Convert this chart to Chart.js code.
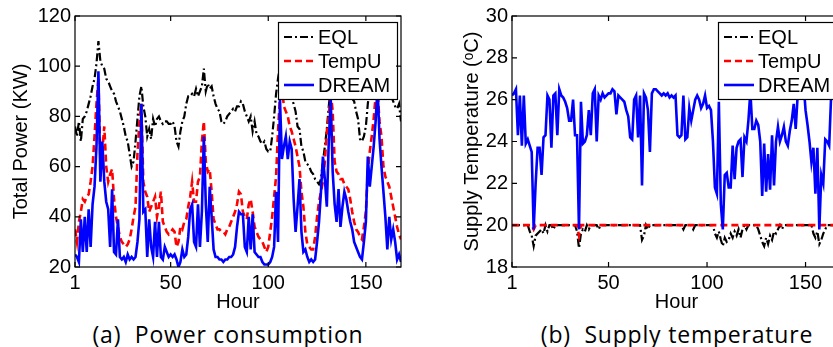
<!DOCTYPE html>
<html>
<head>
<meta charset="utf-8">
<script src="https://cdn.jsdelivr.net/npm/chart.js@4.4.1/dist/chart.umd.min.js"></script>
<style>
  html, body { margin: 0; padding: 0; width: 833px; height: 347px; overflow: hidden; background: #fff; }
  #wrapPower { position: absolute; left: 0; top: 0; width: 420px; height: 314px; }
  #wrapTemp { position: absolute; left: 450px; top: 0; width: 400px; height: 314px; }
  .caption { position: absolute; top: 318px; font-family: "Open Sans", "Noto Sans", sans-serif; font-size: 23px; letter-spacing: 0.8px; color: #000; white-space: pre; text-align: center; }
  #capA { left: 53px; width: 350px; }
  #capB { left: 502px; width: 350px; }
</style>
</head>
<body>
<div id="wrapPower"><canvas id="graficoPotencia" width="420" height="314"></canvas></div>
<div id="wrapTemp"><canvas id="graficoTemp" width="400" height="314"></canvas></div>
<div class="caption" id="capA">(a)  Power consumption</div>
<div class="caption" id="capB">(b)  Supply temperature</div>

<script>
// hours 1..168 (one week)
const horas = [];
for (let h = 1; h <= 168; h++) horas.push(h);
const horaTicks = [1, 50, 100, 150];
const potenciaTicks = [20, 40, 60, 80, 100, 120];
const tempTicks = [18, 20, 22, 24, 26, 28, 30];
const nomes = ["EQL", "TempU", "DREAM"];

// (a) total power, KW
const potenciaEql = [
  76, 72, 78, 70, 79, 80, 82, 85, 88, 92,
  95, 101, 110, 102, 100, 99, 95, 94, 92, 90,
  89, 86, 84, 82, 79, 76, 72, 70, 65, 60,
  62, 70, 79, 88, 92, 84, 80, 72, 75, 71,
  79, 76, 79, 80, 78, 77, 78, 78, 77, 77,
  78, 76, 70, 68, 74, 78, 80, 85, 88, 88,
  89, 88, 91, 88, 90, 92, 99, 90, 93, 91,
  92, 88, 85, 83, 82, 78, 77, 78, 80, 81,
  82, 83, 82, 84, 84, 86, 85, 82, 80, 78,
  80, 74, 78, 73, 72, 70, 69, 70, 67, 66,
  66, 72, 80, 89, 95, 100, 98, 96, 97, 94,
  90, 87, 85, 82, 76, 75, 68, 66, 62, 61,
  60, 58, 57, 55, 54, 53, 55, 62, 68, 75,
  84, 92, 98, 100, 96, 95, 96, 94, 92, 95,
  92, 90, 87, 86, 82, 79, 71, 70, 72, 76,
  85, 92, 98, 103, 100, 98, 97, 95, 96, 94,
  92, 90, 88, 86, 84, 83, 85, 78
];
const potenciaTempU = [
  35, 30, 38, 42, 47, 46, 48, 49, 54, 60,
  72, 85, 95, 62, 66, 76, 60, 54, 57, 59,
  47, 40, 36, 32, 30, 29, 28, 29, 31, 35,
  40, 44, 65, 78, 85, 54, 50, 48, 42, 44,
  46, 48, 40, 44, 50, 38, 36, 34, 33, 34,
  35, 34, 28, 30, 36, 35, 38, 39, 44, 48,
  54, 46, 46, 54, 56, 70, 78, 62, 58, 59,
  50, 39, 37, 35, 35, 34, 34, 33, 35, 36,
  38, 40, 42, 45, 50, 49, 42, 40, 39, 45,
  47, 42, 36, 34, 32, 31, 30, 28, 26, 28,
  34, 40, 48, 56, 74, 88, 92, 84, 82, 80,
  76, 74, 71, 68, 64, 60, 50, 44, 34, 29,
  28, 27, 27, 32, 40, 46, 50, 54, 62, 74,
  80, 90, 82, 62, 58, 57, 55, 55, 53, 52,
  51, 47, 42, 38, 35, 34, 32, 31, 36, 42,
  58, 66, 72, 79, 88, 90, 78, 72, 60, 56,
  54, 52, 48, 44, 40, 36, 33, 31
];
const potenciaDream = [
  25, 24, 22, 39, 26, 40, 26, 43, 28, 45,
  52, 68, 98, 54, 70, 54, 46, 43, 28, 51,
  26, 25, 39, 24, 23, 24, 22, 25, 23, 24,
  23, 24, 30, 39, 85, 42, 43, 24, 39, 28,
  24, 38, 24, 38, 24, 23, 28, 26, 24, 25,
  24, 25, 23, 20, 22, 27, 24, 25, 32, 43,
  45, 30, 28, 45, 28, 42, 72, 45, 30, 52,
  40, 27, 24, 24, 23, 23, 22, 23, 23, 24,
  24, 25, 28, 36, 42, 41, 41, 28, 26, 40,
  27, 41, 26, 25, 24, 24, 22, 21, 21, 21,
  22, 24, 28, 50, 30, 87, 63, 68, 72, 63,
  70, 67, 47, 34, 44, 55, 34, 26, 27, 24,
  22, 23, 22, 23, 30, 38, 50, 64, 55, 44,
  70, 87, 58, 45, 38, 51, 36, 44, 50, 47,
  42, 38, 35, 30, 28, 26, 24, 23, 30, 38,
  64, 52, 60, 68, 78, 92, 71, 60, 50, 40,
  27, 40, 31, 35, 30, 23, 25, 22
];

// (b) supply temperature, C
const tempEql = [
  20, 20, 20, 20, 20, 20, 20, 20, 20, 19.7,
  19.5, 19.0, 19.5, 19.6, 19.7, 19.8, 19.6, 20, 19.7, 20,
  20, 19.8, 20, 20, 20, 20, 20, 20, 20, 20,
  20, 20, 20, 19.7, 18.9, 19.6, 19.8, 19.7, 20, 19.8,
  20, 20, 20, 20, 19.8, 20, 20, 20, 20, 20,
  20, 20, 20, 20, 20, 20, 20, 20, 20, 20,
  20, 20, 20, 20, 20, 20, 19.3, 19.5, 20, 19.8,
  20, 20, 20, 20, 20, 20, 20, 20, 20, 20,
  20, 20, 20, 20, 20, 20, 20, 19.8, 20, 20,
  20, 20, 19.8, 20, 20, 20, 20, 20, 20, 20,
  20, 20, 20, 19.6, 19.4, 19.7, 19.3, 19.0, 19.4, 19.2,
  19.3, 19.6, 19.4, 19.7, 19.5, 19.8, 19.4, 19.8, 20, 19.8,
  20, 20, 20, 20, 20, 19.8, 19.5, 19.2, 19.0, 19.4,
  19.1, 19.5, 19.3, 19.7, 19.6, 19.8, 20, 19.8, 20, 20,
  20, 20, 20, 20, 20, 20, 20, 20, 20, 20,
  20, 20, 20, 19.6, 19.4, 19.7, 19.1, 19.3, 19.6, 19.8,
  20, 20, 20, 20, 20, 20, 20, 20
];
const tempTempU = [
  20, 20, 20, 20, 20, 20, 20, 20, 20, 20,
  20, 19.8, 20, 20, 20, 20, 20, 20, 20, 20,
  20, 20, 20, 20, 20, 20, 20, 20, 20, 20,
  20, 20, 20, 20, 19.5, 20, 20, 20, 20, 20,
  20, 20, 20, 20, 20, 20, 20, 20, 20, 20,
  20, 20, 20, 20, 20, 20, 20, 20, 20, 20,
  20, 20, 20, 20, 20, 20, 20, 20, 20, 20,
  20, 20, 20, 20, 20, 20, 20, 20, 20, 20,
  20, 20, 20, 20, 20, 20, 20, 20, 20, 20,
  20, 20, 20, 20, 20, 20, 20, 20, 20, 20,
  20, 20, 20, 20, 20, 20, 20, 20, 20, 20,
  20, 20, 20, 20, 20, 20, 20, 20, 20, 20,
  20, 20, 20, 20, 20, 20, 20, 20, 20, 20,
  20, 20, 20, 20, 20, 20, 20, 20, 20, 20,
  20, 20, 20, 20, 20, 20, 20, 20, 20, 20,
  20, 20, 20, 20, 20, 20, 20, 20, 20, 20,
  20, 20, 20, 20, 20, 20, 20, 20
];
const tempDream = [
  26.2, 26.3, 26.5, 24.3, 26.2, 23.8, 26.2, 23.9, 24.1, 23.8,
  23.5, 19.8, 22.0, 23.7, 23.7, 22.4, 24.2, 24.3, 26.2, 26.0,
  23.7, 26.2, 26.3, 24.3, 26.5, 26.2, 26.1, 25.9, 25.6, 25.0,
  25.0, 26.0, 24.3, 24.3, 19.8, 25.9, 23.9, 24.0, 24.3, 25.5,
  24.3, 26.3, 26.5, 24.0, 26.2, 26.0, 26.3, 26.1, 26.2, 26.3,
  26.3, 26.5, 26.4, 25.3, 26.2, 26.1, 26.0, 25.9, 25.5, 25.2,
  24.2, 24.1, 26.0, 26.2, 24.2, 26.2, 21.9, 26.3, 26.1, 25.5,
  23.5, 26.3, 26.5, 26.5, 26.4, 26.3, 26.2, 26.3, 26.2, 26.3,
  26.1, 26.2, 26.1, 26.2, 24.3, 24.2, 24.3, 26.2, 24.1, 24.2,
  25.6, 25.0, 25.5, 26.0, 26.2, 26.0, 25.6, 25.8, 26.2, 25.6,
  25.7, 25.5, 24.0, 21.8, 21.5, 25.9, 21.0, 19.8, 22.4, 22.5,
  21.8, 21.8, 23.8, 22.2, 23.7, 24.0, 24.1, 22.3, 24.2, 24.0,
  25.0, 26.4, 24.6, 24.6, 25.0, 24.8, 24.0, 21.4, 23.9, 21.6,
  23.4, 21.7, 24.3, 21.9, 24.0, 24.7, 24.0, 24.3, 24.7, 24.0,
  23.8, 24.5, 25.0, 25.8, 24.6, 26.2, 27.0, 27.5, 26.8, 25.5,
  24.8, 24.0, 23.0, 23.7, 21.5, 23.7, 19.8, 22.4, 22.0, 24.1,
  24.0, 23.8, 26.2, 26.6, 26.3, 26.0, 25.8, 26.2
];

Chart.defaults.font.family = '"Liberation Sans", Arial, sans-serif';
Chart.defaults.font.size = 20;
Chart.defaults.color = "#000";

// estilos das linhas (MATLAB-like)
const estilos = [
  { borderColor: "#000000", borderWidth: 2.2, borderDash: [8, 3, 2, 3], order: 2 },
  { borderColor: "#ff0000", borderWidth: 2.6, borderDash: [7, 4], order: 1 },
  { borderColor: "#0000ff", borderWidth: 2.6, borderDash: [], order: 0 }
];

function pontos(valores) {
  return horas.map((h, i) => ({ x: h, y: valores[i] }));
}

// legenda com moldura, dentro da área do gráfico
const legendaCaixa = {
  id: "legendaCaixa",
  afterDatasetsDraw(chart) {
    const { ctx, chartArea: a } = chart;
    const w = 119, h = 77;
    const x0 = Math.round(a.right - 4 - w), y0 = Math.round(a.top + 6);
    ctx.save();
    ctx.fillStyle = "#fff";
    ctx.fillRect(x0, y0, w, h);
    ctx.strokeStyle = "#000";
    ctx.lineWidth = 1.2;
    ctx.strokeRect(x0 + 0.5, y0 + 0.5, w, h);
    chart.data.datasets.forEach((ds, i) => {
      const y = y0 + 15 + i * 24;
      ctx.beginPath();
      ctx.setLineDash(ds.borderDash || []);
      ctx.strokeStyle = ds.borderColor;
      ctx.lineWidth = ds.borderWidth;
      ctx.moveTo(x0 + 6, y);
      ctx.lineTo(x0 + 36, y);
      ctx.stroke();
      ctx.setLineDash([]);
      ctx.fillStyle = "#000";
      ctx.font = '20px "Liberation Sans", Arial, sans-serif';
      ctx.textBaseline = "middle";
      ctx.fillText(ds.label, x0 + 40, y + 1);
    });
    ctx.restore();
  }
};

// moldura e ticks para dentro
const moldura = {
  id: "moldura",
  afterDraw(chart) {
    const { ctx, chartArea: a, scales } = chart;
    const t = 5;
    ctx.save();
    ctx.strokeStyle = "#000";
    ctx.lineWidth = 1.2;
    ctx.beginPath();
    scales.x.ticks.forEach(tk => {
      const px = scales.x.getPixelForValue(tk.value);
      ctx.moveTo(px, a.bottom); ctx.lineTo(px, a.bottom - t);
      ctx.moveTo(px, a.top); ctx.lineTo(px, a.top + t);
    });
    scales.y.ticks.forEach(tk => {
      const py = scales.y.getPixelForValue(tk.value);
      ctx.moveTo(a.left, py); ctx.lineTo(a.left + t, py);
      ctx.moveTo(a.right, py); ctx.lineTo(a.right - t, py);
    });
    ctx.stroke();
    ctx.strokeRect(a.left, a.top, a.right - a.left, a.bottom - a.top);
    ctx.restore();
  }
};

function criaGrafico(id, series, yMin, yMax, yTicks, yTitulo, larguraY, tituloPad, padDireita) {
  const ctx = document.getElementById(id).getContext("2d");
  return new Chart(ctx, {
    type: "line",
    data: {
      datasets: series.map((vals, i) => Object.assign({
        label: nomes[i],
        data: pontos(vals),
        pointRadius: 0,
        tension: 0,
        fill: false
      }, estilos[i]))
    },
    options: {
      responsive: false,
      animation: false,
      devicePixelRatio: 1,
      layout: { padding: { top: 16, right: padDireita, bottom: 0, left: 0 } },
      plugins: { legend: { display: false }, tooltip: { enabled: false } },
      scales: {
        x: {
          type: "linear",
          min: 1,
          max: 168,
          grid: { display: false, drawTicks: false },
          border: { display: false },
          afterBuildTicks: (s) => { s.ticks = horaTicks.map(v => ({ value: v })); },
          afterFit: (s) => { s.height = 314 - 267; },
          ticks: { padding: 4, autoSkip: false, maxRotation: 0, callback: (v) => String(v) },
          title: { display: true, text: "Hour", padding: 0, font: { size: 20 } }
        },
        y: {
          min: yMin,
          max: yMax,
          grid: { display: false, drawTicks: false },
          border: { display: false },
          afterBuildTicks: (s) => { s.ticks = yTicks.map(v => ({ value: v })); },
          afterFit: (s) => { s.width = larguraY; },
          ticks: { padding: 4, autoSkip: false, callback: (v) => String(v) },
          title: { display: true, text: yTitulo, padding: { top: tituloPad, bottom: 0 }, font: { size: 20 } }
        }
      }
    },
    plugins: [legendaCaixa, moldura]
  });
}

criaGrafico("graficoPotencia", [potenciaEql, potenciaTempU, potenciaDream],
  20, 120, potenciaTicks, "Total Power (KW)", 75, 9, 19);
criaGrafico("graficoTemp", [tempEql, tempTempU, tempDream],
  18, 30, tempTicks, "Supply Temperature (\u1D52C)", 62, 10, 9);
</script>
</body>
</html>
